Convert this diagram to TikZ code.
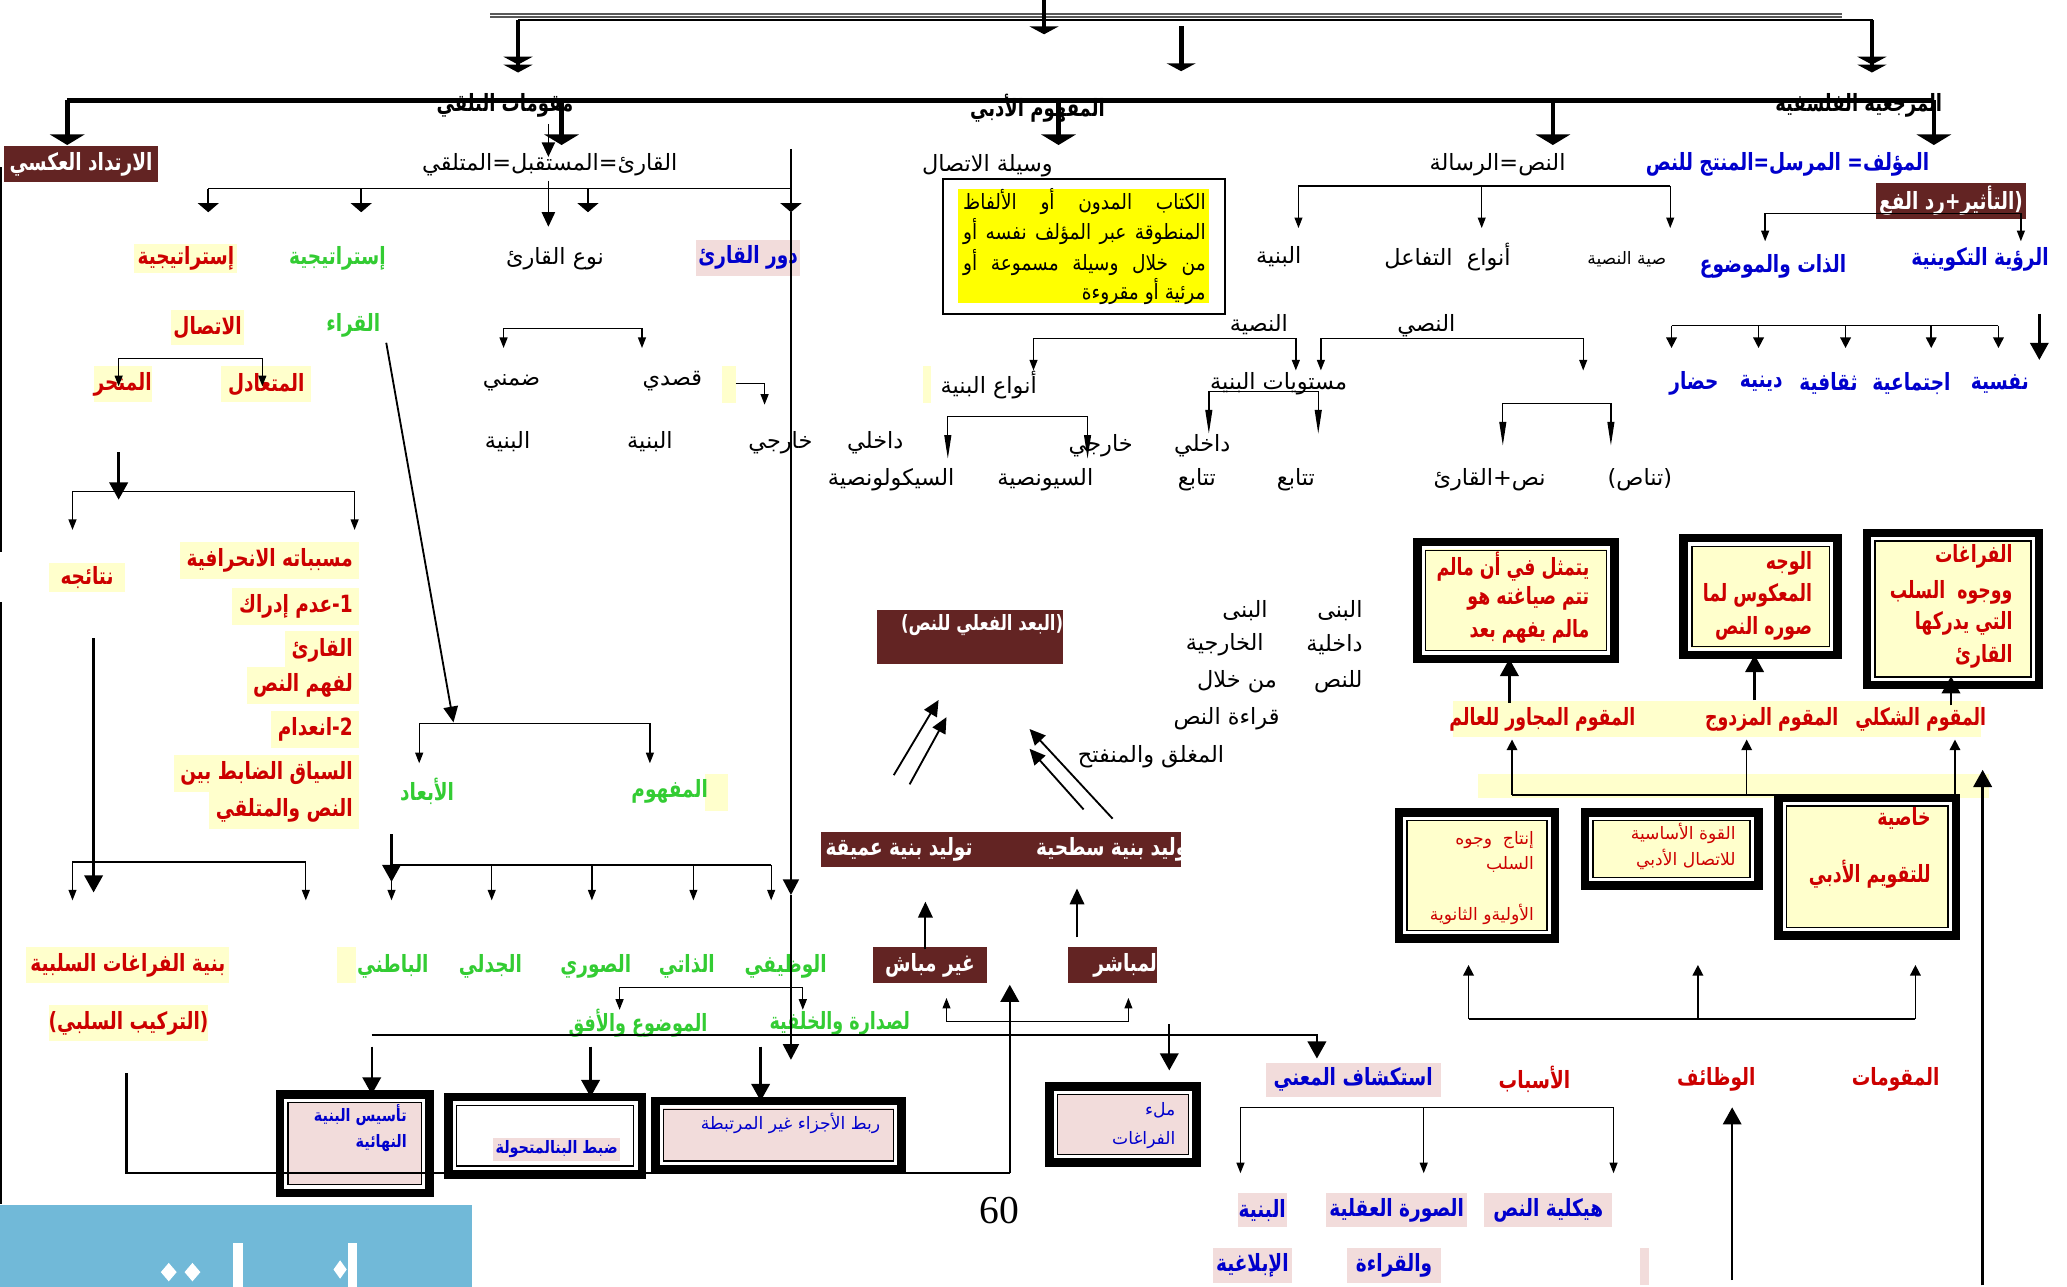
\documentclass[tikz,border=0pt]{standalone}
\usepackage{fontspec}
\usepackage{graphicx}
\usetikzlibrary{arrows.meta}
\TeXXeTstate=1
\newfontfamily\arabicfont[Script=Arabic]{DejaVu Sans}
\newfontfamily\numfont{Liberation Serif}
\newcommand\hs{1}
\newcommand\AR[1]{\scalebox{\hs}[1]{\beginR #1\endR}}
\newcommand\YL[1]{\scalebox{0.88}[1]{\makebox[104.5pt][s]{\beginR #1\endR}}}
\newcommand\fN{\arabicfont\fontsize{8.5}{10}\selectfont\def\hs{1}}
\newcommand\fB{\arabicfont\bfseries\fontsize{9}{10}\selectfont\def\hs{0.78}}
\newcommand\fH{\arabicfont\bfseries\fontsize{9}{10}\selectfont\def\hs{0.76}}
\newcommand\fS{\arabicfont\fontsize{6.5}{8}\selectfont\def\hs{1}}
\newcommand\fSB{\arabicfont\bfseries\fontsize{6.5}{8}\selectfont\def\hs{0.84}}
\newcommand\fY{\arabicfont\fontsize{8}{9}\selectfont}
\definecolor{maroon}{HTML}{632423}
\definecolor{rd}{HTML}{CC0000}
\definecolor{gr}{HTML}{33CC33}
\definecolor{bl}{HTML}{0000CC}
\definecolor{ly}{HTML}{FFFFCC}
\definecolor{pk}{HTML}{F2DCDB}
\definecolor{yy}{HTML}{FFFF00}
\definecolor{sky}{HTML}{71B9D8}
\newcommand\rbox[7]{\node[#6, inner sep=0pt, minimum width={(#4-#2)*0.5}, minimum height={(#5-#3)*0.5}] (#1) at ({(#2+#4)/2},{(#3+#5)/2}) {#7};}
\newcommand\dbox[6]{\node[dframe=#6, minimum width={(#4-#2)*0.5-3.2}, minimum height={(#5-#3)*0.5-3.2}] (#1) at ({(#2+#4)/2},{(#3+#5)/2}) {};}
\tikzset{
  dframe/.style={draw=black, line width=3.2pt, fill=#1, inner sep=0pt, outer sep=0pt,
    path picture={
      \draw[white, line width=1.2pt] ([shift={(2.2pt,2.2pt)}]path picture bounding box.south west) rectangle ([shift={(-2.2pt,-2.2pt)}]path picture bounding box.north east);
      \draw[black, line width=0.5pt] ([shift={(3.1pt,3.1pt)}]path picture bounding box.south west) rectangle ([shift={(-3.1pt,-3.1pt)}]path picture bounding box.north east);}},
  nt/.style={font=\fN, inner sep=1pt},
  hd/.style={font=\fH, inner sep=0pt},
  rb/.style={font=\fB, text=rd, inner sep=1pt},
  rbn/.style={font=\fB\def\hs{0.73}, text=rd, inner sep=1pt},
  gb/.style={font=\fB, text=gr, inner sep=1pt},
  bb/.style={font=\fB, text=bl, inner sep=1pt},
  mb/.style={fill=maroon, text=white, font=\fB},
  rl/.style={font=\fB, text=rd, fill=ly, anchor=east, inner sep=2.5pt},
  thk/.style={line width=1.8pt, -{Triangle[width=13pt,length=4pt]}},
  thkd/.style={line width=1.8pt, -{Triangle[width=11pt,length=3pt]Triangle[width=11pt,length=3pt]}},
  aw/.style={line width=0.6pt, -{Triangle[width=8pt,length=3.5pt]}},
  an/.style={line width=0.5pt, -{Triangle[width=3pt,length=4pt]}},
  as/.style={line width=0.6pt, -{Triangle[width=4pt,length=4pt]}},
  am/.style={line width=0.7pt, -{Triangle[width=5.5pt,length=6pt]}},
  ab/.style={line width=0.9pt, -{Triangle[width=7pt,length=6.5pt]}},
  bn/.style={line width=0.5pt, {Triangle[width=3pt,length=4pt]}-{Triangle[width=3pt,length=4pt]}},
  lnn/.style={line width=0.5pt, {Triangle[width=2.6pt,length=9pt]}-{Triangle[width=2.6pt,length=9pt]}},
}
\begin{document}
\begin{tikzpicture}[x=0.5pt,y=-0.5pt]
\useasboundingbox (0,0) rectangle (1568,976);
% ---------- backgrounds
\fill[ly] (548,278) rectangle (558,306);
\fill[ly] (700,278) rectangle (706,306);
\fill[ly] (256,718) rectangle (270,746);
\fill[ly] (535,587) rectangle (552,615);
\fill[ly] (1102,532) rectangle (1503,559);
\fill[ly] (1121,587) rectangle (1509,605);
\fill[pk] (1244,947) rectangle (1251,975);
\fill[sky] (0,914) rectangle (358,976);
\fill[white] (177,943) rectangle (184,976);
\fill[white] (264,943) rectangle (271,976);
\fill[white] (258,956) -- (263,963) -- (258,970) -- (253,963) -- cycle;
\fill[white] (128,958) -- (134,965) -- (128,972) -- (122,965) -- cycle;
\fill[white] (146,958) -- (152,965) -- (146,972) -- (140,965) -- cycle;
\draw[line width=0.6pt] (1147,603) -- (1346,603);
% ---------- top
\draw[line width=0.5pt, black!65] (372,10.6) -- (1397,10.6);
\draw[line width=0.5pt, black!65] (372,12.9) -- (1397,12.9);
\draw[line width=0.6pt] (393,15) -- (1421,15);
\draw[thkd] (393,15) -- (393,55);
\draw[line width=1.8pt, -{Triangle[width=11pt,length=3pt]}] (792,0) -- (792,26);
\draw[line width=1.8pt, -{Triangle[width=11pt,length=3pt]}] (896,20) -- (896,54);
\draw[thkd] (1420,15) -- (1420,55);
\draw[line width=1.8pt] (51,76) -- (1467,76);
% ---------- headers
\node[hd] (hq) at (383,80) {\AR{مقومات التلقي}};
\node[hd] (hm) at (787,82) {\AR{المفهوم الأدبي}};
\node[hd] (hf) at (1410,80) {\AR{المرجعية الفلسفية}};
% ---------- level 2
\rbox{irt}{3}{111}{120}{138}{mb}{\AR{الارتداد العكسي}}
\node[nt] (qar) at (417,125) {\AR{القارئ=المستقبل=المتلقي}};
\node[nt] (wsl) at (749,126) {\AR{وسيلة الاتصال}};
\node[nt] (nsr) at (1136,125) {\AR{النص=الرسالة}};
\node[bb] (mlf) at (1356,125) {\AR{المؤلف= المرسل=المنتج للنص}};
\rbox{tat}{1423}{139}{1537}{166}{mb}{\AR{(التأثير+رد الفع}}
% ---------- left part
\node[nt] (nwq) at (421,196) {\AR{نوع القارئ}};
\rbox{drq}{528}{182}{607}{209}{fill=pk,font=\fB,text=bl}{\AR{دور القارئ}}
\node[gb] (str1) at (256,196) {\AR{إستراتيجية}};
\rbox{str2}{102}{185}{180}{207}{fill=ly,font=\fB,text=rd}{\AR{إستراتيجية}}
\node[gb] (qra) at (268,247) {\AR{القراء}};
\rbox{tsl}{130}{235}{185}{262}{fill=ly,font=\fB,text=rd}{\AR{الاتصال}}
\rbox{mtd}{168}{278}{236}{305}{fill=ly,font=\fB,text=rd}{\AR{المتعادل}}
\rbox{mnh}{72}{278}{114}{305}{fill=ly,font=\fB,text=rd}{\AR{المنحر}}
\node[nt] (dmn) at (388,290) {\AR{ضمني}};
\node[nt] (qsd) at (510,289) {\AR{قصدي}};
\node[nt] (bn1) at (385,335) {\AR{البنية}};
\node[nt] (bn2) at (493,335) {\AR{البنية}};
\node[rl] (ms1) at (273,425) {\AR{مسبباته الانحرافية}};
\node[rl] (ms2) at (273,460) {\AR{1-عدم إدراك}};
\node[rl] (ms3) at (273,493) {\AR{القارئ}};
\node[rl] (ms4) at (273,520) {\AR{لفهم النص}};
\node[rl] (ms5) at (273,553) {\AR{2-انعدام}};
\node[rl] (ms6) at (273,587) {\AR{السياق الضابط بين}};
\node[rl] (ms7) at (273,615) {\AR{النص والمتلقي}};
\rbox{ntj}{37}{427}{95}{449}{fill=ly,font=\fB,text=rd}{\AR{نتائجه}}
\node[gb] (abd) at (324,600) {\AR{الأبعاد}};
\node[gb] (mfh) at (508,600) {\AR{المفهوم}};
\rbox{bfs}{20}{718}{174}{746}{fill=ly,font=\fB,text=rd}{\AR{بنية الفراغات السلبية}}
\rbox{trk}{37}{762}{158}{790}{fill=ly,font=\fB,text=rd}{\AR{(التركيب السلبي)}}
\node[gb] (btn) at (298,733) {\AR{الباطني}};
\node[gb] (jdl) at (372,733) {\AR{الجدلي}};
\node[gb] (swr) at (452,733) {\AR{الصوري}};
\node[gb] (dhi) at (521,733) {\AR{الذاتي}};
\node[gb] (wzf) at (596,733) {\AR{الوظيفي}};
\node[gb, font=\fB\def\hs{0.74}] (mwd) at (484,776) {\AR{الموضوع والأفق}};
\node[gb, font=\fB\def\hs{0.74}] (sdr) at (637,776) {\AR{لصدارة والخلفية}};
% lower left boxes
\dbox{bx1}{209}{827}{329}{908}{pk}
\dbox{bx2}{337}{829}{490}{894}{white}
\dbox{bx3}{494}{832}{687}{890}{pk}
\node[font=\fSB, text=bl, anchor=east, inner sep=0pt] (t11) at (309,846) {\AR{تأسيس البنية}};
\node[font=\fSB, text=bl, anchor=east, inner sep=0pt] (t12) at (309,867) {\AR{النهائية}};
\node[font=\fSB, text=bl, fill=pk, anchor=east, inner sep=1pt] (t21) at (471,872) {\AR{ضبط البنالمتحولة}};
\node[font=\fS, text=bl, anchor=east, inner sep=0pt] (t31) at (668,852) {\AR{ربط الأجزاء غير المرتبطة}};
% ---------- center
\draw[line width=0.8pt, fill=white] (715,136) rectangle (929,238);
\fill[yy] (727,143) rectangle (917,230);
\node[font=\fY, anchor=east, inner sep=0pt] (y1) at (915,153) {\YL{الكتاب المدون أو الألفاظ}};
\node[font=\fY, anchor=east, inner sep=0pt] (y2) at (915,176) {\YL{المنطوقة عبر المؤلف نفسه أو}};
\node[font=\fY, anchor=east, inner sep=0pt] (y3) at (915,199) {\YL{من خلال وسيلة مسموعة أو}};
\node[font=\fY, anchor=east, inner sep=0pt] (y4) at (915,221) {\scalebox{0.88}[1]{\beginR مرئية أو مقروءة\endR}};
\node[nt] (anb) at (750,292) {\AR{أنواع البنية}};
\node[nt] (dk2) at (664,336) {\AR{داخلي}};
\node[nt] (kh2) at (592,336) {\AR{خارجي}};
\node[nt] (skn) at (676,364) {\AR{السيكولونصية}};
\node[nt] (syn) at (793,364) {\AR{السيونصية}};
\node[nt] (nsy) at (955,246) {\AR{النصية}};
\node[nt] (mst) at (970,291) {\AR{مستويات البنية}};
\node[nt] (dk1) at (912,338) {\AR{داخلي}};
\node[nt] (kh1) at (835,338) {\AR{خارجي}};
\node[nt] (tt1) at (908,364) {\AR{تتابع}};
\node[nt] (tt2) at (983,364) {\AR{تتابع}};
\rbox{bud}{665}{463}{806}{504}{fill=maroon}{}
\node[font=\arabicfont\bfseries\fontsize{8}{10}\selectfont\def\hs{0.78}, text=white, inner sep=0pt] (budt) at (745,474) {\AR{(البعد الفعلي للنص)}};
\node[nt, anchor=east] (c1) at (1036,463) {\AR{البنى}};
\node[nt, anchor=east] (c2) at (1036,489) {\AR{داخلية}};
\node[nt, anchor=east] (c3) at (1036,517) {\AR{للنص}};
\node[nt, anchor=east] (d1) at (964,463) {\AR{البنى}};
\node[nt, anchor=east] (d2) at (961,489) {\AR{الخارجية}};
\node[nt, anchor=east] (d3) at (971,517) {\AR{من خلال}};
\node[nt, anchor=east] (d4) at (973,545) {\AR{قراءة النص}};
\node[nt, anchor=east] (d5) at (931,574) {\AR{المغلق والمنفتح}};
\rbox{tw}{623}{631}{896}{658}{fill=maroon}{}
\node[font=\fB, text=white, inner sep=0pt] (tw1) at (682,644) {\AR{توليد بنية عميقة}};
\node[font=\fB, text=white, inner sep=0pt] (tw2) at (846,644) {\AR{توليد بنية سطحية}};
\rbox{gmb}{662}{718}{749}{746}{mb}{\AR{غير مباش}}
\rbox{mbs}{810}{718}{878}{746}{fill=maroon}{}
\node[font=\fB, text=white, anchor=east, inner sep=0pt] (mbst) at (878,732) {\AR{لمباشر}};
\dbox{mla}{793}{821}{911}{885}{pk}
\node[font=\fS, text=bl, anchor=east, inner sep=0pt] (ml1) at (892,842) {\AR{ملء}};
\node[font=\fS, text=bl, anchor=east, inner sep=0pt] (ml2) at (892,865) {\AR{الفراغات}};
\node[font=\numfont\fontsize{15}{15}\selectfont, inner sep=0pt] (pg) at (758,918) {60};
% ---------- right top
\node[nt] (bn3) at (970,195) {\AR{البنية}};
\node[nt] (anw) at (1098,195) {\AR{أنواع\ \ التفاعل}};
\node[font=\fS, inner sep=0pt] (sya) at (1234,197) {\AR{صية النصية}};
\node[bb] (dht) at (1345,202) {\AR{الذات والموضوع}};
\node[bb] (rua) at (1502,197) {\AR{الرؤية التكوينية}};
\node[bb] (nfs) at (1517,291) {\AR{نفسية}};
\node[bb] (ejt) at (1450,291) {\AR{اجتماعية}};
\node[bb] (thq) at (1387,291) {\AR{ثقافية}};
\node[bb] (din) at (1336,291) {\AR{دينية}};
\node[bb] (hdr) at (1285,291) {\AR{حضار}};
\node[nt] (nsi) at (1082,247) {\AR{النصي}};
\node[nt] (nsq) at (1130,364) {\AR{نص+القارئ}};
\node[nt] (tns) at (1244,364) {\AR{(تناص)}};
% ---------- right boxes
\dbox{rb1}{1072}{408}{1228}{503}{ly}
\dbox{rb2}{1274}{405}{1397}{500}{ly}
\dbox{rb3}{1413}{401}{1550}{523}{ly}
\node[rbn, anchor=east] (r11) at (1208,430) {\AR{يتمثل في أن مالم}};
\node[rbn, anchor=east] (r12) at (1208,454) {\AR{تتم صياغته هو}};
\node[rbn, anchor=east] (r13) at (1208,479) {\AR{مالم يفهم بعد}};
\node[rbn, anchor=east] (r21) at (1377,427) {\AR{الوجه}};
\node[rbn, anchor=east] (r22) at (1377,452) {\AR{المعكوس لما}};
\node[rbn, anchor=east] (r23) at (1377,477) {\AR{صوره النص}};
\node[rbn, anchor=east] (r31) at (1529,422) {\AR{الفراغات}};
\node[rbn, anchor=east] (r32) at (1529,449) {\AR{ووجوه\ \ السلب}};
\node[rbn, anchor=east] (r33) at (1529,473) {\AR{التي يدركها}};
\node[rbn, anchor=east] (r34) at (1529,498) {\AR{القارئ}};
\node[rbn] (mjw) at (1170,546) {\AR{المقوم المجاور للعالم}};
\node[rbn] (mzd) at (1344,546) {\AR{المقوم المزدوج}};
\node[rbn] (shk) at (1457,546) {\AR{المقوم الشكلي}};
\dbox{lb1}{1058}{613}{1183}{715}{ly}
\dbox{lb2}{1199}{613}{1337}{675}{ly}
\dbox{lb3}{1346}{602}{1487}{713}{ly}
\node[font=\fS, text=rd, anchor=east, inner sep=0pt] (l11) at (1164,637) {\AR{إنتاج\ \ وجوه}};
\node[font=\fS, text=rd, anchor=east, inner sep=0pt] (l12) at (1164,656) {\AR{السلب}};
\node[font=\fS, text=rd, anchor=east, inner sep=0pt] (l13) at (1164,694) {\AR{الأوليةو الثانوية}};
\node[font=\fS, text=rd, anchor=east, inner sep=0pt] (l21) at (1317,632) {\AR{القوة الأساسية}};
\node[font=\fS, text=rd, anchor=east, inner sep=0pt] (l22) at (1317,652) {\AR{للاتصال الأدبي}};
\node[rbn, anchor=east] (l31) at (1467,621) {\AR{خاصية}};
\node[rbn, anchor=east] (l32) at (1467,663) {\AR{للتقويم الأدبي}};
\node[rb] (asb) at (1164,819) {\AR{الأسباب}};
\node[rb] (wzn) at (1302,819) {\AR{الوظائف}};
\node[rb] (mqw) at (1438,819) {\AR{المقومات}};
\rbox{ist}{960}{806}{1093}{832}{fill=pk,font=\fB,text=bl}{\AR{استكشاف المعني}}
\rbox{bny}{939}{905}{976}{931}{fill=pk,font=\fB,text=bl}{\AR{البنية}}
\rbox{sur}{1006}{905}{1113}{931}{fill=pk,font=\fB,text=bl}{\AR{الصورة العقلية}}
\rbox{hyk}{1126}{905}{1223}{931}{fill=pk,font=\fB,text=bl}{\AR{هيكلية النص}}
\rbox{ibl}{920}{947}{980}{973}{fill=pk,font=\fB,text=bl}{\AR{الإبلاغية}}
\rbox{qrt}{1022}{947}{1093}{973}{fill=pk,font=\fB,text=bl}{\AR{والقراءة}}
% ---------- connectors
\draw[thk] (51,76) -- (51,110);
\draw[thk] (426,76) -- (426,110);
\draw[thk] (803,76) -- (803,110);
\draw[thk] (1178,76) -- (1178,110);
\draw[thk] (1467,76) -- (1467,110);
\draw[line width=0.6pt, -{Triangle[width=5pt,length=5.5pt]}] (416,94) -- (416,119);
\draw[line width=0.6pt, -{Triangle[width=5pt,length=5.5pt]}] (416,137) -- (416,172);
\draw[line width=0.6pt] (158,143) -- (600,143);
\draw[aw] (158,143) -- (158,161);
\draw[aw] (274,143) -- (274,161);
\draw[aw] (446,143) -- (446,161);
\draw[line width=1pt, -{Triangle[width=8pt,length=3.5pt]}] (600,113) -- (600,161);
\draw[line width=1pt, -{Triangle[width=6pt,length=6pt]}] (600,161) -- (600,679);
\draw[line width=1pt, -{Triangle[width=6pt,length=6pt]}] (600,679) -- (600,804);
\draw[bn] (90,293) -- (90,272) -- (199,272) -- (199,293);
\draw[am] (293,260) -- (344,548);
\draw[bn] (318,579) -- (318,549) -- (493,549) -- (493,579);
\draw[ab] (90,343) -- (90,379);
\draw[bn] (55,402) -- (55,373) -- (269,373) -- (269,402);
\draw[ab] (71,484) -- (71,677);
\draw[bn] (55,683) -- (55,654) -- (232,654) -- (232,683);
\draw[line width=0.8pt] (1,127) -- (1,419);
\draw[line width=0.8pt] (1,457) -- (1,913);
\draw[ab] (297,633) -- (297,669);
\draw[line width=0.6pt] (297,656) -- (585,656);
\foreach \xx in {297,373,449,526,585} \draw[an] (\xx,656) -- (\xx,683);
\draw[bn] (470,766) -- (470,749) -- (609,749) -- (609,766);
\draw[line width=0.9pt] (282,785) -- (1000,785);
\draw[ab] (282,794) -- (bx1.north -| 282,0);
\draw[ab] (448,794) -- (bx2.north -| 448,0);
\draw[ab] (577,794) -- (bx3.north -| 577,0);
\draw[line width=0.9pt] (96,814) -- (96,890) -- (766,890);
\draw[ab] (766,890) -- (766,747);
\draw[am] (678,588) -- (712,531);
\draw[am] (690,595) -- (718,544);
\draw[am] (844,621) -- (781,553);
\draw[am] (822,614) -- (781,568);
\draw[am] (702,720) -- (702,684);
\draw[am] (817,711) -- (817,674);
\draw[bn] (718,757) -- (718,775) -- (856,775) -- (856,757);
\draw[ab] (887,777) -- (887,812);
\draw[ab] (999,785) -- (999,803);
\draw[line width=0.6pt] (985,141) -- (1267,141);
\draw[an] (985,141) -- (985,173);
\draw[an] (1124,141) -- (1124,173);
\draw[an] (1267,141) -- (1267,173);
\draw[bn] (1339,183) -- (1339,162) -- (1533,162) -- (1533,183);
\draw[line width=0.6pt] (1268,247) -- (1516,247);
\foreach \xx in {1268,1334,1400,1465,1516} \draw[as] (\xx,247) -- (\xx,264);
\draw[ab] (1547,238) -- (1547,273);
\draw[bn] (1002,281) -- (1002,257) -- (1201,257) -- (1201,281);
\draw[bn] (784,281) -- (784,257) -- (983,257) -- (983,281);
\draw[lnn] (917,329) -- (917,297) -- (1000,297) -- (1000,329);
\draw[lnn] (719,348) -- (719,316) -- (825,316) -- (825,348);
\draw[lnn] (1140,338) -- (1140,306) -- (1222,306) -- (1222,338);
\draw[bn] (382,264) -- (382,249) -- (487,249) -- (487,264);
\draw[an] (558,291) -- (580,291) -- (580,307);
\draw[ab] (1145,533) -- (rb1.south -| 1145,0);
\draw[ab] (1331,531) -- (rb2.south -| 1331,0);
\draw[ab] (1480,535) -- (1480,513);
\draw[as] (1147,603) -- (1147,561);
\draw[as] (1325,603) -- (1325,561);
\draw[as] (1483,606) -- (1483,561);
\draw[line width=0.6pt] (1114,773) -- (1453,773);
\draw[as] (1114,773) -- (1114,732);
\draw[as] (1288,773) -- (1288,732);
\draw[as] (1453,773) -- (1453,732);
\draw[ab] (1314,971) -- (1314,840);
\draw[ab] (1504,975) -- (1504,584);
\draw[line width=0.6pt] (941,840) -- (1224,840);
\draw[an] (941,840) -- (941,890);
\draw[an] (1080,840) -- (1080,890);
\draw[an] (1224,840) -- (1224,890);
\end{tikzpicture}
\end{document}
